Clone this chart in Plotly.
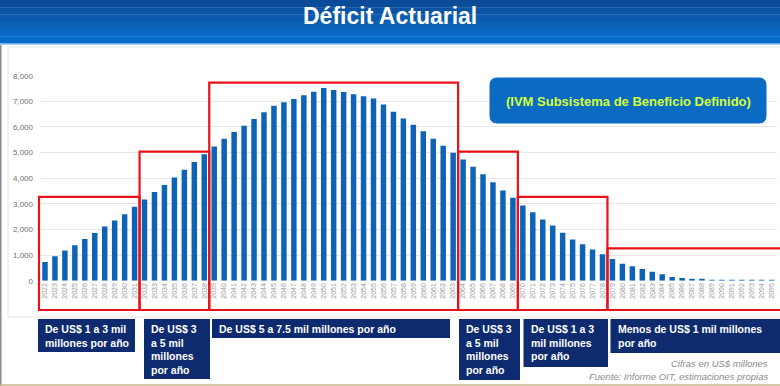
import plotly.graph_objects as go

W, H = 780, 386

years = [str(y) for y in range(2022, 2096)]
deficit = [
    730, 950, 1180, 1380, 1625, 1860, 2120, 2350, 2590, 2890,      # 2022-2031
    3170, 3460, 3730, 4030, 4330, 4630, 4930,                      # 2032-2038
    5240, 5540, 5800, 6050, 6310, 6570, 6830, 6960, 7090, 7240,    # 2039-2048
    7370, 7520, 7440, 7360, 7280, 7200, 7110, 6880, 6590, 6330,    # 2049-2058
    6090, 5830, 5540, 5270, 4990,                                  # 2059-2063
    4730, 4450, 4150, 3840, 3520, 3240,                            # 2064-2069
    2930, 2670, 2390, 2150, 1870, 1610, 1420, 1220, 1030,          # 2070-2078
    848, 664, 562, 457, 352, 250, 145, 105, 78, 60,                # 2079-2088
    27, 15, 12, 10, 8, 6, 5,                                       # 2089-2095
]
y_ticks = [0, 1000, 2000, 3000, 4000, 5000, 6000, 7000, 8000]

# Groups: first index, last index, box top value, label text
group_start = [0, 10, 17, 42, 48, 57]
group_end = [9, 16, 41, 47, 56, 73]
group_top = [3270, 5040, 7730, 5040, 3270, 1265]
group_labels = [
    "De US$ 1 a 3 mil<br>millones por año",
    "De US$ 3<br>a 5 mil<br>millones<br>por año",
    "De US$ 5 a 7.5 mil millones por año",
    "De US$ 3<br>a 5 mil<br>millones<br>por año",
    "De US$ 1 a 3<br>mil millones<br>por año",
    "Menos de US$ 1 mil millones<br>por año",
]

title_text = "Déficit Actuarial"
info_text = "(IVM Subsistema de Beneficio Definido)"
note1 = "Cifras en US$ millones"
note2 = "Fuente: Informe OIT, estimaciones propias"

FONT = "Liberation Sans, Arial, sans-serif"

# layout geometry (pixels)
PL, PR = 40.0, 776.7
PB, PT = 280.7, 75.7
label_x = [(38, 135), (144, 210), (212, 450), (459, 520), (523.5, 608), (610.5, 781)]
label_bottoms = [352, 379, 338, 380, 367, 353]

ncat = len(years)
step = (PR - PL) / ncat


def px(x):
    return x / W


def py(y):
    return 1 - y / H


def cat_pix(i):
    return PL + (i + 0.5) * step


def val_pix(v):
    return PB - v / y_ticks[-1] * (PB - PT)


def rounded_rect(x0, y0, x1, y1, r):
    pts = [
        f"M{px(x0 + r)},{py(y0)}",
        f"L{px(x1 - r)},{py(y0)}",
        f"Q{px(x1)},{py(y0)} {px(x1)},{py(y0 + r)}",
        f"L{px(x1)},{py(y1 - r)}",
        f"Q{px(x1)},{py(y1)} {px(x1 - r)},{py(y1)}",
        f"L{px(x0 + r)},{py(y1)}",
        f"Q{px(x0)},{py(y1)} {px(x0)},{py(y1 - r)}",
        f"L{px(x0)},{py(y0 + r)}",
        f"Q{px(x0)},{py(y0)} {px(x0 + r)},{py(y0)}",
        "Z",
    ]
    return " ".join(pts)


fig = go.Figure()
fig.add_trace(go.Bar(
    x=years, y=deficit, marker=dict(color="#0f63b6", line=dict(width=0)),
    hoverinfo="x+y",
))

shapes = []
annotations = []

# title band (gradient approximated with stripes)
band_cols = ["#0a4c97", "#0a53a2", "#0a5aad", "#0961b8", "#0867c3", "#076dcc"]
bh = 43.5 / len(band_cols)
for k, c in enumerate(band_cols):
    shapes.append(dict(type="rect", xref="paper", yref="paper", x0=0, x1=1,
                       y0=py((k + 1) * bh + 0.3), y1=py(k * bh), fillcolor=c,
                       line=dict(width=0), layer="below"))
shapes.append(dict(type="line", xref="paper", yref="paper", x0=0, x1=1,
                   y0=py(44.3), y1=py(44.3), line=dict(color="#a9cdf0", width=1.5)))
# left grey edge and bottom tan line
shapes.append(dict(type="line", xref="paper", yref="paper", x0=px(0.8), x1=px(0.8),
                   y0=py(45), y1=py(386), line=dict(color="#8a8a8a", width=1.5)))
shapes.append(dict(type="line", xref="paper", yref="paper", x0=0, x1=1,
                   y0=py(385), y1=py(385), line=dict(color="#c8b48a", width=1.5)))
# light chart frame
shapes.append(dict(type="rect", xref="paper", yref="paper", x0=px(8), x1=px(781),
                   y0=py(317), y1=py(47), line=dict(color="#e3e3e3", width=1),
                   fillcolor="rgba(0,0,0,0)", layer="below"))

annotations.append(dict(text="<b>" + title_text + "</b>", xref="paper", yref="paper",
                        x=px(390), y=py(15.5), xanchor="center", yanchor="middle",
                        showarrow=False,
                        font=dict(family=FONT, size=23, color="white")))

# info box (rounded)
shapes.append(dict(type="path", xref="paper", yref="paper",
                   path=rounded_rect(490, 78, 766, 123, 7), fillcolor="#0b6bc2",
                   line=dict(color="#0b6bc2", width=1), layer="above"))
annotations.append(dict(text="<b>" + info_text + "</b>", xref="paper", yref="paper",
                        x=px(628), y=py(101), xanchor="center", yanchor="middle",
                        showarrow=False,
                        font=dict(family=FONT, size=13, color="#d4ff3a")))

# red group boxes and navy labels
for g in range(len(group_start)):
    x0 = cat_pix(group_start[g]) - step / 2 - (1 if g == 0 else 0)
    x1 = cat_pix(group_end[g]) + step / 2 if g < len(group_start) - 1 else 800
    shapes.append(dict(type="rect", xref="paper", yref="paper", x0=px(x0), x1=px(x1),
                       y0=py(310), y1=py(val_pix(group_top[g])),
                       line=dict(color="#e8121b", width=2.2),
                       fillcolor="rgba(0,0,0,0)", layer="above"))
    lx0, lx1 = label_x[g]
    shapes.append(dict(type="rect", xref="paper", yref="paper", x0=px(lx0), x1=px(lx1),
                       y0=py(label_bottoms[g]), y1=py(319), fillcolor="#0d2b6e",
                       line=dict(width=0), layer="above"))
    annotations.append(dict(text="<b>" + group_labels[g] + "</b>", xref="paper", yref="paper",
                            x=px(lx0 + 5), y=py(321), xanchor="left", yanchor="top",
                            align="left", showarrow=False,
                            font=dict(family=FONT, size=10.5, color="white")))

annotations.append(dict(text="<i>" + note1 + "</i>", xref="paper", yref="paper",
                        x=px(770), y=py(363), xanchor="right", yanchor="middle",
                        showarrow=False,
                        font=dict(family=FONT, size=9.5, color="#8c8c8c")))
annotations.append(dict(text="<i>" + note2 + "</i>", xref="paper", yref="paper",
                        x=px(770), y=py(376.5), xanchor="right", yanchor="middle",
                        showarrow=False,
                        font=dict(family=FONT, size=9.5, color="#8c8c8c")))

fig.update_layout(
    width=W, height=H,
    margin=dict(l=0, r=0, t=0, b=0, autoexpand=False),
    paper_bgcolor="white", plot_bgcolor="white",
    showlegend=False, bargap=0.45,
    shapes=shapes, annotations=annotations,
    xaxis=dict(type="category", domain=[px(PL), px(PR)], range=[-0.5, ncat - 0.5],
               tickangle=-90, tickfont=dict(family=FONT, size=7, color="#9a9a9a"),
               showgrid=False, showline=False, ticks="", automargin=False, fixedrange=True),
    yaxis=dict(domain=[py(PB), py(PT)], range=[0, y_ticks[-1]], tickvals=y_ticks,
               tickformat=",d", tickfont=dict(family=FONT, size=8, color="#6f6f6f"),
               showgrid=True, gridcolor="#e6e6e6", gridwidth=1, zeroline=False,
               showline=False, ticks="", automargin=False, ticklabelstandoff=6),
)

fig.write_html(
    "out.html",
    config={"displayModeBar": False},
    post_script="document.body.style.margin='0';document.body.style.overflow='hidden';",
)
